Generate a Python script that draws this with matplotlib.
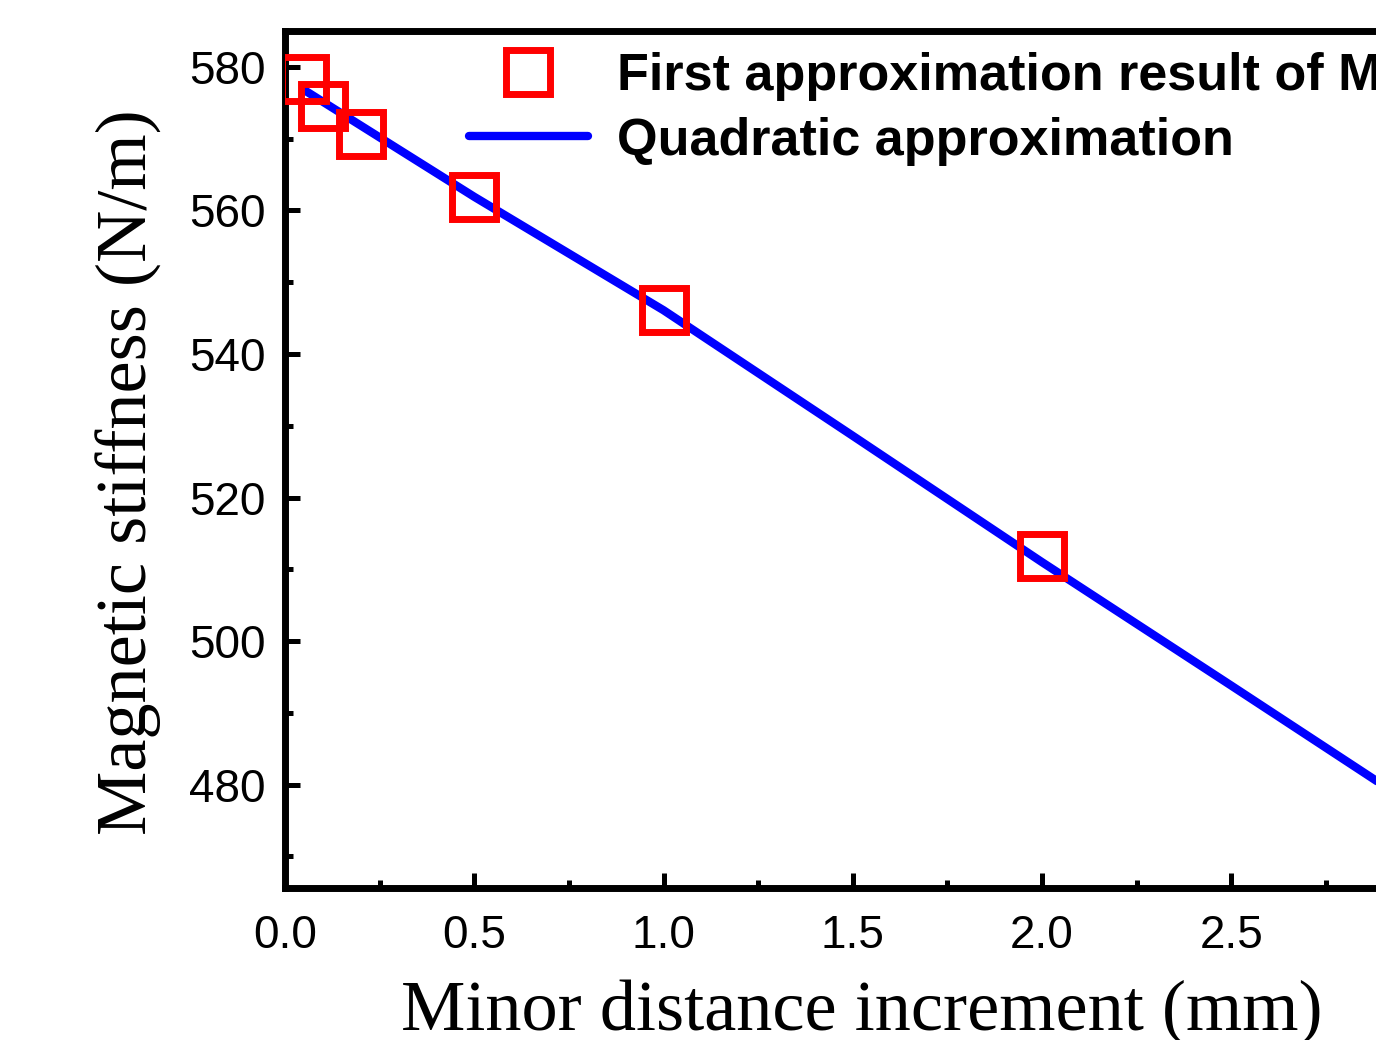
import numpy as np
import matplotlib
matplotlib.use('Agg')
import matplotlib.pyplot as plt

# data
dist_pts = [0.05, 0.1, 0.2, 0.5, 1.0, 2.0]
stiff_pts = [578.3, 574.6, 570.6, 561.9, 546.1, 511.8]

dist_fit = [0.05, 0.5, 1.0, 1.5, 2.0, 2.5, 3.0]
stiff_fit = [576.8, 561.9, 546.1, 528.6, 511.0, 493.8, 476.5]

label_pts = 'First approximation result of M'
label_fit = 'Quadratic approximation'

fig = plt.figure(figsize=(13.76, 10.4), dpi=100)
# axes runs past the right edge of the figure, like the cropped original
ax = fig.add_axes([285 / 1376, 152 / 1040, 1135.5 / 1376, 857 / 1040])

ax.plot(dist_pts, stiff_pts, 's', ms=31, mfc='none', mec='#ff0000', mew=5,
        label=label_pts, zorder=3)
ax.plot(dist_fit, stiff_fit, '-', color='#0000ff', lw=6, solid_capstyle='round',
        label=label_fit, zorder=2)

ax.set_xlim(0, 3.0)
ax.set_ylim(465.6, 585.0)
ax.set_xticks([0.0, 0.5, 1.0, 1.5, 2.0, 2.5])
ax.set_xticks(np.arange(0.25, 3.0, 0.5), minor=True)
ax.set_yticks([480, 500, 520, 540, 560, 580])
ax.set_yticks([470, 490, 510, 530, 550, 570], minor=True)
ax.set_xticklabels(['0.0', '0.5', '1.0', '1.5', '2.0', '2.5'])

for s in ax.spines.values():
    s.set_linewidth(5)
ax.tick_params(which='both', direction='in', width=3.6, top=False, right=False)
ax.tick_params(which='major', length=11)
ax.tick_params(which='minor', length=6)
ax.tick_params(axis='x', which='major', pad=19)
ax.tick_params(axis='y', which='major', pad=14)
for t in ax.get_xticklabels() + ax.get_yticklabels():
    t.set_fontfamily('Liberation Sans')
    t.set_fontsize(33)

ax.set_xlabel('Minor distance increment (mm)', fontfamily='Liberation Serif',
              fontsize=52)
ax.set_ylabel('Magnetic stiffness (N/m)', fontfamily='Liberation Serif',
              fontsize=52)
ax.yaxis.set_label_coords(-0.108, 0.485)
ax.xaxis.set_label_coords(0.508, -0.106)

leg = ax.legend(loc='upper left', bbox_to_anchor=(0.162, 0.975), frameon=False,
                borderpad=0, borderaxespad=0, handlelength=2.28, handletextpad=0.56,
                labelspacing=0.29, numpoints=1,
                prop={'family': 'Liberation Sans', 'weight': 'bold', 'size': 37.5})

fig.savefig('out.png', dpi=100)
